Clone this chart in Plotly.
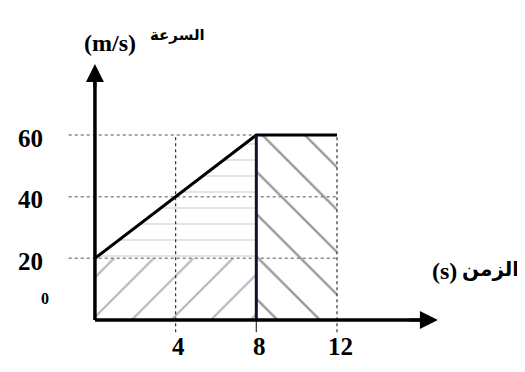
import plotly.graph_objects as go

# data
time_pts = [0, 8, 12]
speed_pts = [20, 60, 60]
y_ticks = [60, 40, 20]
x_ticks = [4, 8, 12]
y_label = "(m/s)"
y_label_ar = "السرعة"
x_label = "(s)"
x_label_ar = "الزمن"

fig = go.Figure()

# hatched regions
fig.add_trace(go.Scatter(x=[0, 8, 8, 0, 0], y=[0, 0, 20, 20, 0], fill="toself", mode="none",
                         fillcolor="rgba(0,0,0,0)",
                         fillpattern=dict(shape="/", fgcolor="#6a6f80", bgcolor="white", size=28, solidity=0.08)))
fig.add_trace(go.Scatter(x=[0, 8, 8, 0], y=[20, 60, 20, 20], fill="toself", mode="none",
                         fillcolor="rgba(0,0,0,0)",
                         fillpattern=dict(shape="-", fgcolor="#bcbcbc", bgcolor="white", size=16, solidity=0.1)))
fig.add_trace(go.Scatter(x=[8, 12, 12, 8, 8], y=[0, 0, 60, 60, 0], fill="toself", mode="none",
                         fillcolor="rgba(0,0,0,0)",
                         fillpattern=dict(shape="\\", fgcolor="#333", bgcolor="white", size=30, solidity=0.08)))

# dotted grid lines
for v in y_ticks:
    fig.add_trace(go.Scatter(x=[-1.3, 12], y=[v, v], mode="lines",
                             line=dict(color="#8a8a8a", width=1.5, dash="dot")))
for t in x_ticks:
    fig.add_trace(go.Scatter(x=[t, t], y=[-4, 60], mode="lines",
                             line=dict(color="#333", width=1.2, dash="dot" if t != 8 else "solid")))

# main line
fig.add_trace(go.Scatter(x=time_pts, y=speed_pts, mode="lines", line=dict(color="black", width=3)))
fig.add_trace(go.Scatter(x=[8, 8], y=[0, 60], mode="lines", line=dict(color="#101030", width=3)))
# axes lines
fig.add_trace(go.Scatter(x=[0, 0], y=[0, 80], mode="lines", line=dict(color="black", width=3.5)))
fig.add_trace(go.Scatter(x=[0, 16.5], y=[0, 0], mode="lines", line=dict(color="black", width=3.5)))

# arrowheads
fig.add_annotation(x=0, y=83, ax=0, ay=75, axref="x", ayref="y", xref="x", yref="y",
                   showarrow=True, arrowhead=2, arrowsize=1.2, arrowwidth=3, arrowcolor="black", text="")
fig.add_annotation(x=17, y=0, ax=15.5, ay=0, axref="x", ayref="y", xref="x", yref="y",
                   showarrow=True, arrowhead=2, arrowsize=1.2, arrowwidth=3, arrowcolor="black", text="")

serif = dict(family="Liberation Serif", size=25, color="black")
for v in y_ticks:
    fig.add_annotation(x=-3.2, y=v - 1, text="<b>%d</b>" % v, showarrow=False, font=serif)
fig.add_annotation(x=-2.5, y=7, text="<b>0</b>", showarrow=False,
                   font=dict(family="Liberation Serif", size=16, color="black"))
for t in x_ticks:
    fig.add_annotation(x=t + 0.15, y=-8.5, text="<b>%d</b>" % t, showarrow=False, font=serif)

fig.add_annotation(x=0.75, y=90, text="<b>" + y_label + "</b>", showarrow=False,
                   font=dict(family="Liberation Serif", size=24, color="black"))
fig.add_annotation(x=4.1, y=92.5, text="<b>" + y_label_ar + "</b>", showarrow=False,
                   font=dict(family="DejaVu Sans", size=15, color="black"))
fig.add_annotation(x=17.35, y=16, text="<b>" + x_label + "</b>", showarrow=False,
                   font=dict(family="Liberation Serif", size=24, color="black"))
fig.add_annotation(x=19.6, y=16.5, text="<b>" + x_label_ar + "</b>", showarrow=False,
                   font=dict(family="DejaVu Sans", size=20, color="black"))

# page body has 8px margin; compensate so marks land where the reference has them
fig.update_layout(width=517, height=364, margin=dict(l=0, r=0, t=0, b=0),
                  plot_bgcolor="white", paper_bgcolor="white", showlegend=False,
                  xaxis=dict(range=[-4.31, 21.32], visible=False, fixedrange=True),
                  yaxis=dict(range=[-16.87, 101.2], visible=False, fixedrange=True))
fig.write_html("out.html")
